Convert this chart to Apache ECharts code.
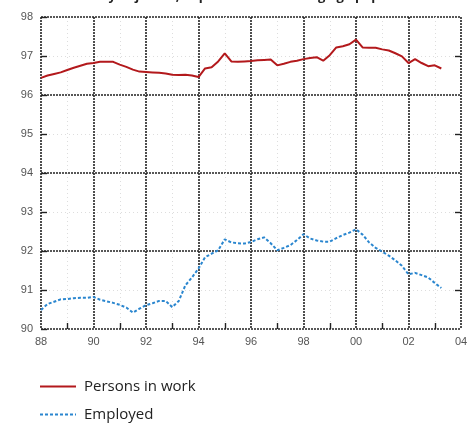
<!DOCTYPE html>
<html>
<head>
<meta charset="utf-8">
<script src="https://cdn.jsdelivr.net/npm/echarts@6/dist/echarts.min.js"></script>
<style>
  html, body { margin: 0; padding: 0; background: #fff; }
  #chart { width: 473px; height: 425px; }
</style>
</head>
<body>
<div id="chart"></div>
<script>
// quarterly, starting 1988 Q1
var startYear = 1988;
var personsInWork = [
  96.44, 96.50, 96.54, 96.58, 96.64, 96.70, 96.75, 96.80,
  96.82, 96.85, 96.85, 96.85, 96.78, 96.72, 96.65, 96.60,
  96.59, 96.58, 96.57, 96.55, 96.52, 96.51, 96.52, 96.50,
  96.46, 96.68, 96.71, 96.86, 97.07, 96.86, 96.85, 96.86,
  96.87, 96.89, 96.90, 96.91, 96.76, 96.80, 96.85, 96.88,
  96.92, 96.95, 96.97, 96.88, 97.02, 97.22, 97.25, 97.30,
  97.42, 97.22, 97.21, 97.21, 97.17, 97.14, 97.07, 96.99,
  96.82, 96.92, 96.82, 96.74, 96.76, 96.68
];
var employed = [
  90.49, 90.64, 90.70, 90.76, 90.77, 90.79, 90.80, 90.80,
  90.82, 90.75, 90.71, 90.67, 90.62, 90.55, 90.42, 90.52,
  90.61, 90.66, 90.72, 90.72, 90.56, 90.72, 91.12, 91.32,
  91.55, 91.84, 91.93, 92.02, 92.30, 92.22, 92.20, 92.19,
  92.23, 92.30, 92.35, 92.20, 92.02, 92.08, 92.15, 92.28,
  92.43, 92.32, 92.27, 92.24, 92.24, 92.33, 92.41, 92.47,
  92.56, 92.42, 92.22, 92.08, 91.98, 91.88, 91.76, 91.62,
  91.40, 91.44, 91.38, 91.32, 91.18, 91.05
];
var seriesNames = ['Persons in work', 'Employed'];
var titleText = 'Seasonally adjusted, in per cent of working age population';

function toPoints(arr) {
  return arr.map(function (v, i) { return [startYear + i * 0.25, v]; });
}

var chart = echarts.init(document.getElementById('chart'));
var gridLine = { color: '#222', width: 1.6, type: [2, 1] };
var faint = { color: '#ddd', width: 1, type: [1, 3] };

var option = {
  animation: false,
  title: {
    text: titleText,
    left: 'center',
    top: -15,
    textStyle: { fontSize: 13, fontWeight: 'bold', color: '#222', fontFamily: 'Open Sans' }
  },
  grid: { left: 41, right: 12, top: 17, bottom: 96 },
  legend: {
    orient: 'vertical',
    left: 39,
    top: 379,
    padding: 0,
    itemGap: 13,
    itemWidth: 36,
    itemHeight: 14,
    itemStyle: { opacity: 0 },
    textStyle: { fontSize: 15, color: '#222', fontFamily: 'Open Sans', padding: [0, 0, 0, 3] },
    data: seriesNames
  },
  xAxis: {
    type: 'value',
    min: 1988,
    max: 2004,
    interval: 2,
    axisLine: { show: false },
    axisTick: { show: false },
    minorTick: { show: true, splitNumber: 2, length: -6, lineStyle: { color: '#222', width: 1.4 } },
    minorSplitLine: { show: true, lineStyle: faint },
    splitLine: { show: true, lineStyle: gridLine },
    axisLabel: {
      color: '#555', fontSize: 11, margin: 7,
      formatter: function (v) { return String(v).slice(2); }
    }
  },
  yAxis: [
    {
      type: 'value',
      min: 90,
      max: 98,
      interval: 1,
      position: 'left',
      axisLine: { show: false },
      axisTick: { show: true, inside: true, length: 6, lineStyle: { color: '#222', width: 1.4 } },
      splitLine: { show: false },
      axisLabel: { color: '#555', fontSize: 11, margin: 8 }
    },
    {
      type: 'value',
      min: 90,
      max: 98,
      interval: 2,
      position: 'right',
      axisLine: { show: false },
      axisTick: { show: false },
      minorTick: { show: true, splitNumber: 2, length: -6, lineStyle: { color: '#222', width: 1.4 } },
      minorSplitLine: { show: true, lineStyle: faint },
      splitLine: { show: true, lineStyle: gridLine },
      axisLabel: { show: false }
    }
  ],
  series: [
    {
      name: seriesNames[0],
      type: 'line',
      data: toPoints(personsInWork),
      showSymbol: false,
      symbol: 'none',
      lineStyle: { color: '#b3191c', width: 2 },
      itemStyle: { color: '#b3191c' }
    },
    {
      name: seriesNames[1],
      type: 'line',
      data: toPoints(employed),
      showSymbol: false,
      symbol: 'none',
      lineStyle: { color: '#2a86cf', width: 2, type: [3, 2] },
      itemStyle: { color: '#2a86cf' }
    }
  ]
};
chart.setOption(option);
window.addEventListener('resize', function () { chart.resize(); });
</script>
</body>
</html>
